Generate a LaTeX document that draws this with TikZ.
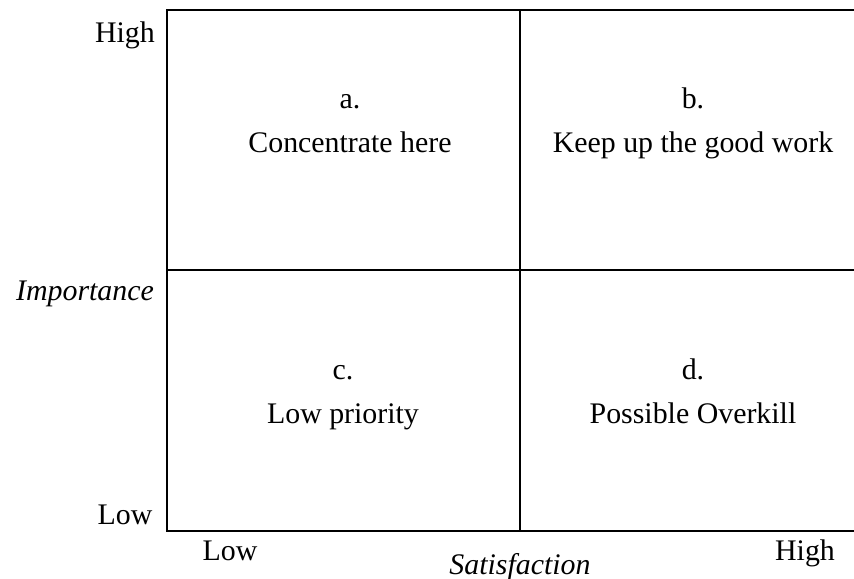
\documentclass[tikz,border=0pt]{standalone}
\usepackage{fontspec}
\setmainfont{Liberation Serif}
\usepackage{tikz}
\usetikzlibrary{positioning}

\begin{document}
\begin{tikzpicture}[
  frame/.style={draw, line width=1.6pt},
  divider/.style={draw, line width=1.1pt},
  quad/.style={align=center, font=\fontsize{17}{25}\selectfont},
  lab/.style={font=\fontsize{17}{20}\selectfont, text height=0.75em, text depth=0.25em}
]
  \useasboundingbox (0,0) rectangle (17.08,11.58);
  % corners of the grid
  \coordinate (tl) at (3.34,11.38);
  \coordinate (bl) at (3.34,0.96);
  \coordinate (tr) at (17.08,11.38);
  \coordinate (br) at (17.08,0.96);
  \coordinate (ml) at (3.34,6.18);
  \coordinate (mr) at (17.08,6.18);
  \coordinate (mt) at (10.4,11.38);
  \coordinate (mb) at (10.4,0.96);

  \draw[frame] (tr) -- (tl) -- (bl) -- (br);
  \draw[divider] (ml) -- (mr);
  \draw[divider] (mt) -- (mb);

  \node[quad] (qa) at (7.0,9.14) {\strut a.\\\strut Concentrate here};
  \node[quad] (qb) at (13.86,9.14) {\strut b.\\\strut Keep up the good work};
  \node[quad] (qc) at (6.86,3.72) {\strut c.\\\strut Low priority};
  \node[quad] (qd) at (13.86,3.72) {\strut d.\\\strut Possible Overkill};

  \node[lab] (yhigh) at (2.5,10.82) {High};
  \node[lab] (ylab) at (1.7,5.66) {\itshape Importance};
  \node[lab] (ylow) at (2.5,1.18) {Low};
  \node[lab] (xlow) at (4.6,0.46) {Low};
  \node[lab] (xlab) at (10.4,0.17) {\itshape Satisfaction};
  \node[lab] (xhigh) at (16.1,0.46) {High};
\end{tikzpicture}
\end{document}
